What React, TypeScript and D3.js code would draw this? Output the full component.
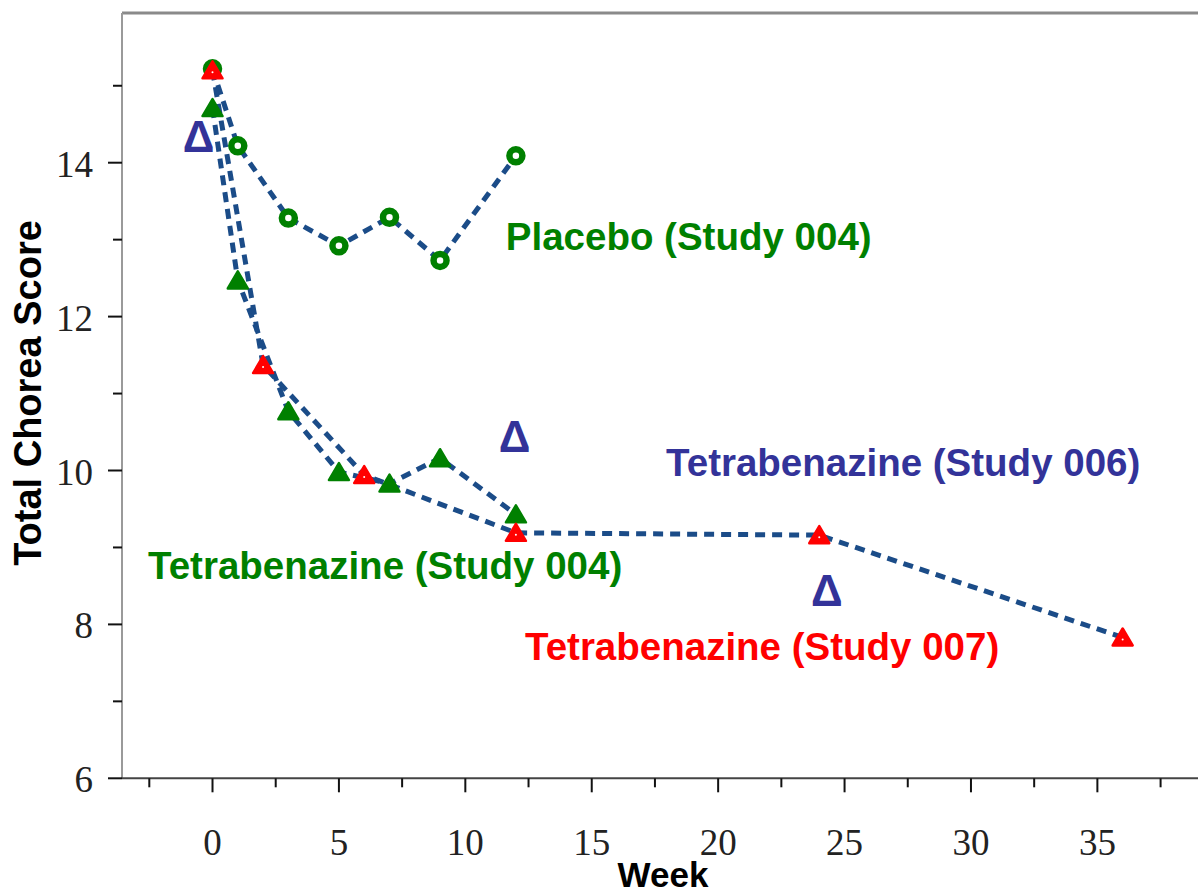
import React from "react";
import * as d3 from "d3";

const placeboWeeks = [0, 1, 3, 5, 7, 9, 12];
const placeboValues = [15.22, 14.22, 13.28, 12.92, 13.29, 12.73, 14.09];

const tbz004Weeks = [0, 1, 3, 5, 7, 9, 12];
const tbz004Values = [14.71, 12.47, 10.77, 9.98, 9.83, 10.16, 9.43];

const tbz007Weeks = [0, 2, 6, 12, 24, 36];
const tbz007Values = [15.2, 11.37, 9.94, 9.19, 9.16, 7.83];

const tbz006Weeks = [-0.55, 11.95, 24.3];
const tbz006Values = [14.34, 10.44, 8.45];

const xMajorTicks = [0, 5, 10, 15, 20, 25, 30, 35];
const xMinorTicks = [-2.5, 2.5, 7.5, 12.5, 17.5, 22.5, 27.5, 32.5, 37.5];
const yMajorTicks = [6, 8, 10, 12, 14];
const yMinorTicks = [7, 9, 11, 13, 15];

const labels = [
  { text: "Placebo (Study 004)", week: 11.6, value: 12.87, color: "#008000" },
  { text: "Tetrabenazine (Study 006)", week: 17.94, value: 9.935, color: "#333399" },
  { text: "Tetrabenazine (Study 004)", week: -2.55, value: 8.596, color: "#008000" },
  { text: "Tetrabenazine (Study 007)", week: 12.36, value: 7.531, color: "#ff0000" },
];

const W = 1198;
const H = 896;
const left = 122;
const top = 13;
const bottom = 778.3;

export default function App() {
  const x = d3.scaleLinear().domain([-3.58, 38.98]).range([left, W]);
  const y = d3.scaleLinear().domain([6, 6 + (bottom - top) / 76.95]).range([bottom, top]);

  const line = d3
    .line<[number, number]>()
    .x((d) => x(d[0]))
    .y((d) => y(d[1]));

  const zip = (a: number[], b: number[]) => a.map((v, i) => [v, b[i]] as [number, number]);

  const tri = (cx: number, cy: number) =>
    `M${cx},${cy - 9} L${cx + 10},${cy + 8} L${cx - 10},${cy + 8} Z`;

  const dash = { stroke: "#1b4c88", strokeWidth: 5, strokeDasharray: "10 7", fill: "none" };

  return (
    <svg
      width={W}
      height={H}
      style={{ position: "absolute", left: 0, top: 0, background: "#fff" }}
    >
      {/* frame */}
      <line x1={left} x2={W} y1={top} y2={top} stroke="#8a8a8a" strokeWidth={3} />
      <line x1={left} x2={left} y1={top} y2={bottom} stroke="#9a9a9a" strokeWidth={2} />
      <line x1={left} x2={W} y1={bottom} y2={bottom} stroke="#444" strokeWidth={2} />

      {/* y ticks */}
      {yMajorTicks.map((t) => (
        <g key={"ym" + t}>
          <line x1={left - 14} x2={left} y1={y(t)} y2={y(t)} stroke="#111" strokeWidth={2} />
          <text
            x={93}
            y={y(t)}
            dy="0.38em"
            textAnchor="end"
            fontFamily="'Liberation Serif', 'Times New Roman', serif"
            fontSize={37}
            fill="#222"
          >
            {t}
          </text>
        </g>
      ))}
      {yMinorTicks.map((t) => (
        <line key={"yn" + t} x1={left - 9} x2={left} y1={y(t)} y2={y(t)} stroke="#111" strokeWidth={2} />
      ))}

      {/* x ticks */}
      {xMajorTicks.map((t) => (
        <g key={"xm" + t}>
          <line x1={x(t)} x2={x(t)} y1={bottom} y2={bottom + 14} stroke="#111" strokeWidth={2} />
          <text
            x={x(t)}
            y={855}
            textAnchor="middle"
            fontFamily="'Liberation Serif', 'Times New Roman', serif"
            fontSize={37}
            fill="#222"
          >
            {t}
          </text>
        </g>
      ))}
      {xMinorTicks.map((t) => (
        <line key={"xn" + t} x1={x(t)} x2={x(t)} y1={bottom} y2={bottom + 9} stroke="#111" strokeWidth={2} />
      ))}

      {/* axis titles */}
      <text
        transform={`translate(41,393) rotate(-90)`}
        textAnchor="middle"
        fontFamily="'Liberation Sans', Arial, sans-serif"
        fontWeight="bold"
        fontSize={38}
        fill="#000"
      >
        Total Chorea Score
      </text>
      <text
        x={663}
        y={887}
        textAnchor="middle"
        fontFamily="'Liberation Sans', Arial, sans-serif"
        fontWeight="bold"
        fontSize={35}
        fill="#000"
      >
        Week
      </text>

      {/* Placebo study 004 */}
      <path d={line(zip(placeboWeeks, placeboValues)) || ""} {...dash} />
      {/* TBZ study 004 */}
      <path d={line(zip(tbz004Weeks, tbz004Values)) || ""} {...dash} />
      {/* TBZ study 007 */}
      <path d={line(zip(tbz007Weeks, tbz007Values)) || ""} {...dash} />

      {placeboWeeks.map((w, i) => (
        <circle
          key={"pc" + i}
          cx={x(w)}
          cy={y(placeboValues[i])}
          r={6.5}
          fill="#fff"
          stroke="#008000"
          strokeWidth={6.5}
        />
      ))}
      {tbz004Weeks.map((w, i) => (
        <path
          key={"gt" + i}
          d={tri(x(w), y(tbz004Values[i]))}
          fill="#008000"
          stroke="#008000"
          strokeWidth={2.5}
          strokeLinejoin="round"
        />
      ))}
      {tbz007Weeks.map((w, i) => (
        <g key={"rt" + i}>
          <path
            d={tri(x(w), y(tbz007Values[i]))}
            fill="#ff0000"
            stroke="#ff0000"
            strokeWidth={2.5}
            strokeLinejoin="round"
          />
          <circle cx={x(w)} cy={y(tbz007Values[i]) + 2} r={1} fill="#fff" />
        </g>
      ))}

      {tbz006Weeks.map((w, i) => (
        <text
          key={"d" + i}
          x={x(w)}
          y={y(tbz006Values[i])}
          dy="0.36em"
          textAnchor="middle"
          fontFamily="'Liberation Sans', Arial, sans-serif"
          fontWeight="bold"
          fontSize={44}
          fill="#333399"
        >
          Δ
        </text>
      ))}

      {labels.map((l) => (
        <text
          key={l.text}
          x={x(l.week)}
          y={y(l.value)}
          fontFamily="'Liberation Sans', Arial, sans-serif"
          fontWeight="bold"
          fontSize={38.5}
          fill={l.color}
        >
          {l.text}
        </text>
      ))}
    </svg>
  );
}
